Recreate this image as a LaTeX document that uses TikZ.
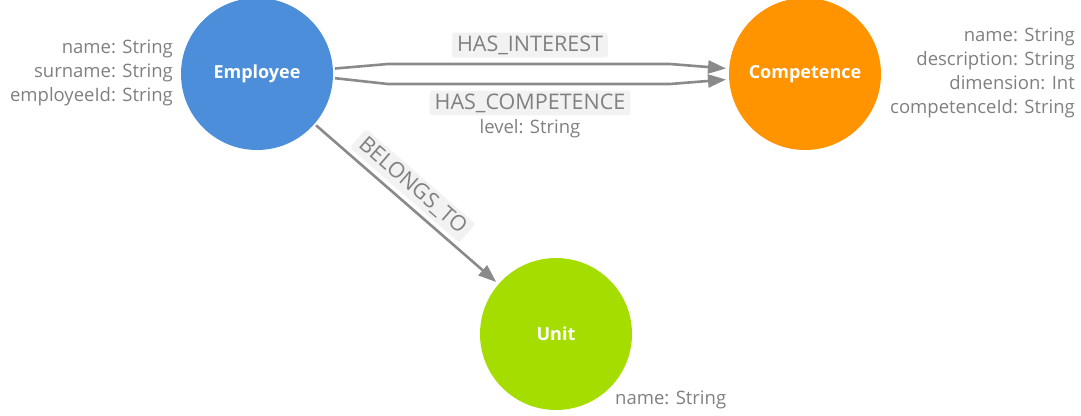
\documentclass[tikz,border=0pt]{standalone}
\usepackage{fontspec}
\setmainfont{Open Sans}
\usetikzlibrary{arrows.meta}
\definecolor{empblue}{HTML}{4C8EDA}
\definecolor{comporange}{HTML}{FF9300}
\definecolor{unitgreen}{HTML}{A5DD00}
\definecolor{propgray}{HTML}{808080}
\definecolor{edgegray}{HTML}{8A8A8A}
\definecolor{labelbg}{HTML}{F2F2F2}
\tikzset{
  entity/.style={circle, minimum size=152pt, inner sep=0pt, text=white, font=\fontsize{18}{20}\selectfont\bfseries},
  prop/.style={text=propgray, font=\fontsize{18.5}{24}\selectfont, inner sep=0pt},
  rel/.style={draw=edgegray, line width=2.6pt, -{Triangle[length=18pt, width=13pt]}, line join=round},
  rellabel/.style={fill=labelbg, rounded corners=3pt, text=propgray, font=\fontsize{21.5}{23}\selectfont, inner xsep=5pt, inner ysep=3pt}
}
\begin{document}
\begin{tikzpicture}[x=1pt, y=-1pt]
\useasboundingbox (0,0) rectangle (1081,415);
\node[entity, fill=empblue] (emp) at (257,74) {Employee};
\node[entity, fill=comporange] (comp) at (805,74) {Competence};
\node[entity, fill=unitgreen] (unit) at (556,334) {Unit};

\node[prop, anchor=east, align=right] (empprops) at (173,73) {name: String\\surname: String\\employeeId: String};
\node[prop, anchor=east, align=right] (compprops) at (1075,73) {name: String\\description: String\\dimension: Int\\competenceId: String};
\node[prop, anchor=west] (unitprops) at (615,400) {name: String};

\coordinate (i1) at (388,64);
\coordinate (i2) at (670,64);
\coordinate (c1) at (388,84);
\coordinate (c2) at (670,84);
\draw[rel, shorten <=2pt, shorten >=3pt] (emp.4) -- (i1) -- (i2) -- (comp.176);
\draw[rel, shorten <=2pt, shorten >=3pt] (emp.-3) -- (c1) -- (c2) -- (comp.-176);
\node[rellabel] (lint) at (530,45) {HAS\_INTEREST};
\node[rellabel] (lcomp) at (530,103) {HAS\_COMPETENCE};
\node[prop] (llevel) at (530,129) {level: String};

\draw[rel, shorten <=2pt, shorten >=3pt] (emp.-41) -- (unit.139)
  node[rellabel, sloped, pos=0.47, above=4pt] (lbel) {BELONGS\_TO};
\end{tikzpicture}
\end{document}
